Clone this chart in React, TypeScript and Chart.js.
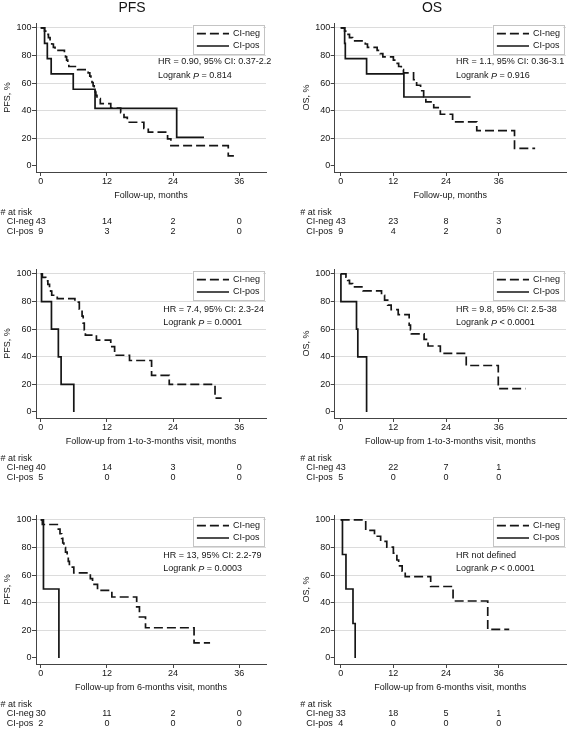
import React, { useEffect, useRef } from "react";
import { Chart, registerables } from "chart.js";

Chart.register(...registerables);

const FONT = '"Liberation Sans", Arial, Helvetica, sans-serif';
const INK = "#151515";
const AXIS = "#444444";
const GRID = "#dcdcdc";

// ---------- shared tick values / labels ----------
const xTickMonths = [0, 12, 24, 36];
const yTickValues = [0, 20, 40, 60, 80, 100];
const groupLabels = ["CI-neg", "CI-pos"];

// ---------- Panel 1: PFS, follow-up ----------
const p1NegT = [0, 0.7, 1.1, 1.4, 1.7, 2.0, 2.3, 2.6, 4.3, 4.5, 4.7, 4.9, 5.1, 6.7, 8.6, 8.9, 9.1, 9.3, 9.5, 9.7, 9.9, 10.0, 10.2, 10.8, 12.7, 14.5, 15.1, 15.7, 18.7, 19.5, 23.0, 23.6, 34.0, 35.7];
const p1NegS = [100, 97.7, 95.3, 93.0, 90.7, 88.4, 86.0, 83.7, 81.4, 79.1, 76.7, 74.4, 72.1, 69.8, 67.4, 65.1, 62.8, 60.5, 58.1, 55.8, 53.5, 51.2, 48.8, 45.2, 42.0, 38.7, 35.2, 31.7, 27.3, 24.5, 19.6, 14.8, 7.4, 7.4];
const p1PosT = [0, 0.7, 1.2, 1.9, 5.9, 9.85, 24.65, 29.6];
const p1PosS = [100, 88.9, 77.8, 66.7, 55.6, 41.7, 20.8, 20.8];
const p1RiskNeg = [43, 14, 2, 0];
const p1RiskPos = [9, 3, 2, 0];

// ---------- Panel 2: OS, follow-up ----------
const p2NegT = [0, 0.9, 1.4, 2.0, 2.7, 5.6, 6.1, 8.3, 9.0, 9.6, 12.0, 12.6, 13.2, 13.8, 14.3, 16.6, 17.3, 18.2, 18.9, 19.4, 21.2, 22.7, 25.5, 31.0, 39.6, 44.3];
const p2NegS = [100, 97.7, 95.3, 93.0, 90.7, 88.4, 86.0, 83.7, 81.4, 79.1, 76.7, 74.4, 72.1, 69.8, 67.4, 62.5, 58.5, 54.5, 50.2, 46.5, 42.3, 37.5, 32.0, 25.6, 12.8, 12.8];
const p2PosT = [0, 0.9, 1.05, 5.9, 14.4, 29.6];
const p2PosS = [100, 88.9, 77.8, 66.7, 50.0, 50.0];
const p2RiskNeg = [43, 23, 8, 3];
const p2RiskPos = [9, 4, 2, 0];

// ---------- Panel 3: PFS, from 1-to-3-months visit ----------
const p3NegT = [0, 0.3, 0.9, 1.3, 1.6, 1.8, 2.0, 3.0, 6.2, 7.0, 7.5, 7.7, 7.9, 8.1, 10.1, 12.7, 13.4, 16.1, 20.1, 23.3, 31.6, 32.8];
const p3NegS = [100, 97.5, 95.0, 92.5, 90.0, 87.5, 84.6, 82.1, 79.6, 74.5, 69.5, 64.4, 59.4, 55.7, 52.0, 47.3, 41.1, 37.3, 26.6, 20.0, 10.0, 10.0];
const p3PosT = [0, 0.15, 1.95, 3.2, 3.7, 6.0];
const p3PosS = [100, 80, 60, 40, 20, 0];
const p3RiskNeg = [40, 14, 3, 0];
const p3RiskPos = [5, 0, 0, 0];

// ---------- Panel 4: OS, from 1-to-3-months visit ----------
const p4NegT = [0, 1.2, 1.6, 2.0, 2.7, 5.1, 9.3, 10.0, 10.7, 11.5, 13.1, 15.6, 15.9, 16.1, 19.0, 19.9, 22.7, 28.6, 35.9, 42.1];
const p4NegS = [100, 97.7, 95.3, 93.0, 90.6, 87.8, 84.6, 81.0, 77.5, 74.2, 70.6, 63.0, 59.5, 56.6, 52.6, 47.8, 42.5, 33.7, 17.0, 17.0];
const p4PosT = [0, 0.05, 3.6, 3.9, 5.9];
const p4PosS = [100, 80, 60, 40, 0];
const p4RiskNeg = [43, 22, 7, 1];
const p4RiskPos = [5, 0, 0, 0];

// ---------- Panel 5: PFS, from 6-months visit ----------
const p5NegT = [0, 0.3, 3.2, 3.5, 3.8, 4.0, 4.2, 4.5, 4.8, 5.0, 5.2, 6.0, 9.0, 9.4, 10.3, 12.9, 17.4, 17.9, 19.0, 27.8, 30.7];
const p5NegS = [100, 96.7, 93.3, 90.0, 86.7, 83.3, 80.0, 76.7, 73.3, 70.0, 65.8, 61.6, 57.5, 53.3, 49.0, 44.2, 37.0, 29.7, 21.9, 11.0, 11.0];
const p5PosT = [0, 0.5, 3.3];
const p5PosS = [100, 50, 0];
const p5RiskNeg = [30, 11, 2, 0];
const p5RiskPos = [2, 0, 0, 0];

// ---------- Panel 6: OS, from 6-months visit ----------
const p6NegT = [0, 5.7, 7.7, 9.1, 10.5, 12.0, 12.8, 13.2, 14.0, 14.7, 20.5, 25.6, 33.5, 38.4];
const p6NegS = [100, 92.4, 88.2, 84.5, 80.3, 76.0, 71.0, 66.7, 62.9, 59.0, 51.8, 41.3, 20.7, 20.7];
const p6PosT = [0, 0.4, 1.2, 2.8, 3.3];
const p6PosS = [100, 75, 50, 25, 0];
const p6RiskNeg = [33, 18, 5, 1];
const p6RiskPos = [4, 0, 0, 0];

// ---------- layout ----------
const PANEL_H = 238;
const ROW_STEP = 246;

type ColGeo = {
  left: number; width: number; padL: number; yW: number; padR: number;
  xMin: number; xMax: number; titleX: number; hashX: number; groupX: number;
};
const COLS: ColGeo[] = [
  { left: 0, width: 283, padL: 0, yW: 36, padR: 17, xMin: -0.852, xMax: 40.84, titleX: 132, hashX: 0.5, groupX: 6.7 },
  { left: 283, width: 284, padL: 16, yW: 35.7, padR: 1, xMin: -1.367, xMax: 51.33, titleX: 149, hashX: 17.3, groupX: 23.3 },
];

type PanelCfg = {
  row: number; col: number; title?: string; yTitle: string; xTitle: string;
  hr: string; p: string; hrX: number;
  negT: number[]; negS: number[]; posT: number[]; posS: number[];
  riskNeg: number[]; riskPos: number[];
};

const panels: PanelCfg[] = [
  { row: 0, col: 0, title: "PFS", yTitle: "PFS, %", xTitle: "Follow-up, months", hr: "HR = 0.90, 95% CI: 0.37-2.2", p: "= 0.814", hrX: 158, negT: p1NegT, negS: p1NegS, posT: p1PosT, posS: p1PosS, riskNeg: p1RiskNeg, riskPos: p1RiskPos },
  { row: 0, col: 1, title: "OS", yTitle: "OS, %", xTitle: "Follow-up, months", hr: "HR = 1.1, 95% CI: 0.36-3.1", p: "= 0.916", hrX: 173, negT: p2NegT, negS: p2NegS, posT: p2PosT, posS: p2PosS, riskNeg: p2RiskNeg, riskPos: p2RiskPos },
  { row: 1, col: 0, yTitle: "PFS, %", xTitle: "Follow-up from 1-to-3-months visit, months", hr: "HR = 7.4, 95% CI: 2.3-24", p: "= 0.0001", hrX: 163.3, negT: p3NegT, negS: p3NegS, posT: p3PosT, posS: p3PosS, riskNeg: p3RiskNeg, riskPos: p3RiskPos },
  { row: 1, col: 1, yTitle: "OS, %", xTitle: "Follow-up from 1-to-3-months visit, months", hr: "HR = 9.8, 95% CI: 2.5-38", p: "< 0.0001", hrX: 173, negT: p4NegT, negS: p4NegS, posT: p4PosT, posS: p4PosS, riskNeg: p4RiskNeg, riskPos: p4RiskPos },
  { row: 2, col: 0, yTitle: "PFS, %", xTitle: "Follow-up from 6-months visit, months", hr: "HR = 13, 95% CI: 2.2-79", p: "= 0.0003", hrX: 163.3, negT: p5NegT, negS: p5NegS, posT: p5PosT, posS: p5PosS, riskNeg: p5RiskNeg, riskPos: p5RiskPos },
  { row: 2, col: 1, yTitle: "OS, %", xTitle: "Follow-up from 6-months visit, months", hr: "HR not defined", p: "< 0.0001", hrX: 173, negT: p6NegT, negS: p6NegS, posT: p6PosT, posS: p6PosS, riskNeg: p6RiskNeg, riskPos: p6RiskPos },
];

function makeOverlay(cfg: PanelCfg) {
  const geo = COLS[cfg.col];
  return {
    id: "kmOverlay",
    afterDatasetsDraw(chart: any) {
      const ctx: CanvasRenderingContext2D = chart.ctx;
      const ca = chart.chartArea;
      const xs = chart.scales.x;
      ctx.save();
      ctx.fillStyle = INK;

      // panel title
      if (cfg.title) {
        ctx.font = `14px ${FONT}`;
        ctx.textAlign = "center";
        ctx.textBaseline = "alphabetic";
        ctx.fillText(cfg.title, geo.titleX, 11.7);
      }

      // legend box
      const bx = ca.right - 73.5;
      const bw = 70.7;
      const by = 25;
      const bh = 29;
      ctx.fillStyle = "#ffffff";
      ctx.fillRect(bx, by, bw, bh);
      ctx.strokeStyle = "#c4c4c4";
      ctx.lineWidth = 1;
      ctx.strokeRect(Math.round(bx) + 0.5, by + 0.5, Math.round(bw), bh);
      const rowsY = [33.6, 46];
      groupLabels.forEach((lab, i) => {
        ctx.strokeStyle = INK;
        ctx.lineWidth = 1.7;
        ctx.setLineDash(i === 0 ? [9, 4] : []);
        ctx.beginPath();
        ctx.moveTo(bx + 4.4, rowsY[i]);
        ctx.lineTo(bx + 36.5, rowsY[i]);
        ctx.stroke();
        ctx.setLineDash([]);
        ctx.fillStyle = INK;
        ctx.font = `9px ${FONT}`;
        ctx.textAlign = "left";
        ctx.textBaseline = "middle";
        ctx.fillText(lab, bx + 40.5, rowsY[i]);
      });

      // HR / logrank text
      const hy = cfg.row === 0 ? [62, 76] : [64, 77];
      ctx.font = `9px ${FONT}`;
      ctx.textAlign = "left";
      ctx.textBaseline = "middle";
      ctx.fillStyle = INK;
      ctx.fillText(cfg.hr, cfg.hrX, hy[0]);
      let x = cfg.hrX;
      const seg1 = "Logrank ";
      ctx.fillText(seg1, x, hy[1]);
      x += ctx.measureText(seg1).width;
      ctx.font = `italic 9px ${FONT}`;
      ctx.fillText("P", x, hy[1]);
      x += ctx.measureText("P").width;
      ctx.font = `9px ${FONT}`;
      ctx.fillText(" " + cfg.p, x, hy[1]);

      // number at risk table
      ctx.fillText("# at risk", geo.hashX, 212.5);
      const ry = [222, 231.5];
      const rows = [cfg.riskNeg, cfg.riskPos];
      groupLabels.forEach((lab, i) => {
        ctx.textAlign = "left";
        ctx.fillText(lab, geo.groupX, ry[i]);
        ctx.textAlign = "center";
        rows[i].forEach((n, j) => {
          ctx.fillText(String(n), xs.getPixelForValue(xTickMonths[j]), ry[i]);
        });
      });
      ctx.restore();
    },
  };
}

function buildConfig(cfg: PanelCfg): any {
  const geo = COLS[cfg.col];
  const tickFont = { family: FONT, size: 9 };
  return {
    type: "line",
    data: {
      datasets: [
        {
          label: groupLabels[0],
          data: cfg.negT.map((t, i) => ({ x: t, y: cfg.negS[i] })),
          stepped: true,
          borderColor: INK,
          borderWidth: 1.7,
          borderDash: [9, 4],
          pointRadius: 0,
          fill: false,
        },
        {
          label: groupLabels[1],
          data: cfg.posT.map((t, i) => ({ x: t, y: cfg.posS[i] })),
          stepped: true,
          borderColor: INK,
          borderWidth: 1.7,
          pointRadius: 0,
          fill: false,
        },
      ],
    },
    options: {
      responsive: false,
      animation: false,
      devicePixelRatio: 1,
      events: [],
      layout: { padding: { left: geo.padL, right: geo.padR, top: 23, bottom: PANEL_H - 172 - 29 } },
      plugins: { legend: { display: false }, tooltip: { enabled: false }, title: { display: false } },
      scales: {
        x: {
          type: "linear",
          min: geo.xMin,
          max: geo.xMax,
          afterBuildTicks: (s: any) => { s.ticks = xTickMonths.map((v) => ({ value: v })); },
          afterFit: (s: any) => { s.height = 29; },
          ticks: { font: tickFont, color: INK, padding: 0.5, maxRotation: 0, autoSkip: false, callback: (v: any) => String(v) },
          grid: { display: true, drawOnChartArea: false, drawTicks: true, tickLength: 4, tickColor: AXIS, tickWidth: 1 },
          border: { display: true, color: AXIS, width: 1 },
          title: { display: true, text: cfg.xTitle, font: tickFont, color: INK, padding: { top: 0, bottom: 0 } },
        },
        y: {
          type: "linear",
          min: -4.35,
          max: 103.6,
          afterBuildTicks: (s: any) => { s.ticks = yTickValues.map((v) => ({ value: v })); },
          afterFit: (s: any) => { s.width = geo.yW; },
          ticks: { font: tickFont, color: INK, padding: 0.5, callback: (v: any) => String(v) },
          grid: {
            display: true,
            drawOnChartArea: true,
            color: (c: any) => (c.tick && c.tick.value > 0 ? GRID : "rgba(0,0,0,0)"),
            lineWidth: 1,
            tickLength: 4,
            tickColor: AXIS,
            tickWidth: 1,
          },
          border: { display: true, color: AXIS, width: 1 },
          title: { display: true, text: cfg.yTitle, font: tickFont, color: INK, padding: { top: 2, bottom: 0 } },
        },
      },
    },
    plugins: [makeOverlay(cfg)],
  };
}

function KMPanel({ cfg }: { cfg: PanelCfg }) {
  const ref = useRef<HTMLCanvasElement | null>(null);
  const geo = COLS[cfg.col];
  useEffect(() => {
    const canvas = ref.current;
    if (!canvas) return;
    const chart = new Chart(canvas, buildConfig(cfg));
    return () => chart.destroy();
  }, [cfg]);
  return (
    <canvas
      ref={ref}
      width={geo.width}
      height={PANEL_H}
      style={{ position: "absolute", left: geo.left, top: cfg.row * ROW_STEP, width: geo.width, height: PANEL_H }}
    />
  );
}

export default function App() {
  return (
    <div style={{ position: "absolute", left: 0, top: 0, width: 567, height: 730, background: "#ffffff", overflow: "hidden" }}>
      {panels.map((p, i) => (
        <KMPanel key={i} cfg={p} />
      ))}
    </div>
  );
}
